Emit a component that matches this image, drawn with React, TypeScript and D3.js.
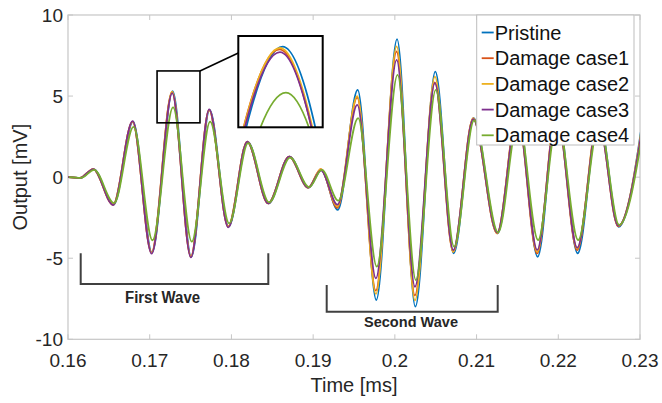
import * as d3 from 'd3';

// ---- data (extrema of each trace, ms / mV) ----
const times = [0.16, 0.16147, 0.1631, 0.16554, 0.16792, 0.17024, 0.17276, 0.17505, 0.17729, 0.17962,
  0.18194, 0.18451, 0.18708, 0.18941, 0.19096, 0.19298, 0.19541, 0.19769, 0.20023, 0.20247,
  0.20491, 0.20715, 0.2096, 0.21254, 0.215, 0.21743, 0.2198, 0.22233, 0.2249, 0.22735, 0.2305];

const pristine = [0, -0.05, 0.5, -1.7, 3.43, -4.66, 5.3, -4.91, 4.15, -3.05,
  2.19, -1.62, 1.27, -0.65, 0.44, -2.02, 5.38, -7.58, 8.51, -7.99,
  6.51, -4.7, 3.64, -3.46, 4.2, -4.91, 4.3, -4.7, 3.8, -3.06, 4.3];
const damage1 = [0, -0.05, 0.5, -1.7, 3.43, -4.66, 5.24, -4.9, 4.15, -3.05,
  2.19, -1.62, 1.27, -0.65, 0.5, -1.9, 4.9, -7.0, 7.75, -7.3,
  5.85, -4.6, 3.62, -3.46, 4.0, -4.7, 4.1, -4.5, 3.6, -3.04, 3.5];
const damage2 = [0, -0.05, 0.5, -1.7, 3.43, -4.66, 5.27, -4.9, 4.15, -3.05,
  2.19, -1.62, 1.27, -0.65, 0.5, -1.8, 5.0, -7.2, 8.06, -7.6,
  6.2, -4.6, 3.62, -3.46, 4.1, -4.6, 4.2, -4.4, 3.7, -3.0, 3.9];
const damage3 = [0, -0.05, 0.5, -1.72, 3.46, -4.72, 5.18, -4.95, 4.18, -3.1,
  2.19, -1.62, 1.27, -0.65, 0.42, -1.7, 4.46, -6.24, 7.23, -6.76,
  5.8, -4.5, 3.58, -3.42, 3.9, -4.49, 4.0, -4.35, 3.5, -3.0, 3.7];
const damage4 = [0, -0.05, 0.45, -1.6, 3.1, -3.89, 4.3, -3.98, 3.43, -2.85,
  2.1, -1.55, 1.2, -0.62, 0.45, -1.45, 3.64, -5.52, 6.31, -6.35,
  5.38, -4.29, 3.5, -3.4, 3.6, -3.88, 3.6, -3.88, 3.4, -2.95, 3.6];

const seriesNames = ['Pristine', 'Damage case1', 'Damage case2', 'Damage case3', 'Damage case4'];
const seriesValues = [pristine, damage1, damage2, damage3, damage4];
const timeShift = [0.00004, -0.00002, -0.00001, -0.00001, 0.0001];
const colors = ['#0072BD', '#D95319', '#EDB120', '#7E2F8E', '#77AC30'];

const xTicks = [0.16, 0.17, 0.18, 0.19, 0.2, 0.21, 0.22, 0.23];
const xTickLabels = ['0.16', '0.17', '0.18', '0.19', '0.2', '0.21', '0.22', '0.23'];
const yTicks = [-10, -5, 0, 5, 10];

// zoomed region shown in the inset
const zoomWindowT = [0.1709, 0.17615];
const zoomWindowV = [3.35, 6.55];
const insetT = [0.17198, 0.17354];
const insetV = [3.55, 5.53];

const font = '"Liberation Sans", Arial, sans-serif';

export default function App() {
  const W = 662, H = 403;
  const plot = { left: 68, right: 640, top: 15, bottom: 339.3 };
  const x = d3.scaleLinear().domain([0.16, 0.23]).range([plot.left, plot.right]);
  const y = d3.scaleLinear().domain([-10, 10]).range([plot.bottom, plot.top]);

  const inset = { left: 238.3, right: 322.7, top: 36, bottom: 127.3 };
  const ix = d3.scaleLinear().domain(insetT).range([inset.left, inset.right]);
  const iy = d3.scaleLinear().domain(insetV).range([inset.bottom, inset.top]);

  const series = seriesValues.map((vals, i) =>
    times.map((t, j) => [t + timeShift[i], vals[j]] as [number, number]));

  const line = d3.line<[number, number]>()
    .x(d => x(d[0])).y(d => y(d[1])).curve(d3.curveMonotoneX);
  const insetLine = d3.line<[number, number]>()
    .x(d => ix(d[0])).y(d => iy(d[1])).curve(d3.curveMonotoneX);

  const axisColor = '#c6c6c6';
  const textColor = '#262626';
  const tickLen = 5;

  // small box in the main plot
  const zb = { x0: x(zoomWindowT[0]), x1: x(zoomWindowT[1]), y0: y(zoomWindowV[1]), y1: y(zoomWindowV[0]) };

  const legend = { x: 476.7, y: 15, w: 157.3, h: 130, row: 25.7 };

  return (
    <svg width={W} height={H} style={{ position: 'absolute', left: 0, top: 0, background: '#fff' }}
      fontFamily={font}>
      <defs>
        <clipPath id="plotClip">
          <rect x={plot.left} y={plot.top} width={plot.right - plot.left} height={plot.bottom - plot.top} />
        </clipPath>
        <clipPath id="insetClip">
          <rect x={inset.left} y={inset.top} width={inset.right - inset.left} height={inset.bottom - inset.top} />
        </clipPath>
      </defs>
      <rect x={0} y={0} width={W} height={H} fill="#fff" />

      {/* axes box + ticks */}
      <rect x={plot.left} y={plot.top} width={plot.right - plot.left} height={plot.bottom - plot.top}
        fill="none" stroke={axisColor} strokeWidth={1.2} />
      {xTicks.map(t => (
        <g key={'xt' + t}>
          <line x1={x(t)} x2={x(t)} y1={plot.bottom} y2={plot.bottom - tickLen} stroke={axisColor} />
          <line x1={x(t)} x2={x(t)} y1={plot.top} y2={plot.top + tickLen} stroke={axisColor} />
        </g>
      ))}
      {yTicks.map(v => (
        <g key={'yt' + v}>
          <line x1={plot.left} x2={plot.left + tickLen} y1={y(v)} y2={y(v)} stroke={axisColor} />
          <line x1={plot.right} x2={plot.right - tickLen} y1={y(v)} y2={y(v)} stroke={axisColor} />
        </g>
      ))}

      {/* traces */}
      <g clipPath="url(#plotClip)">
        {series.map((s, i) => (
          <path key={seriesNames[i]} d={line(s) ?? ''} fill="none" stroke={colors[i]} strokeWidth={1.8} />
        ))}
      </g>

      {/* tick labels */}
      {xTicks.map((t, i) => (
        <text key={'xl' + t} x={x(t)} y={367} textAnchor="middle" fontSize={19} fill={textColor}>{xTickLabels[i]}</text>
      ))}
      {yTicks.map(v => (
        <text key={'yl' + v} x={63} y={y(v) + 7} textAnchor="end" fontSize={19} fill={textColor}>{v}</text>
      ))}
      <text x={(plot.left + plot.right) / 2} y={392} textAnchor="middle" fontSize={20} fill={textColor}>Time [ms]</text>
      <text transform={`translate(27,${(plot.top + plot.bottom) / 2}) rotate(-90)`} textAnchor="middle"
        fontSize={20} fill={textColor}>Output [mV]</text>

      {/* zoom box, connector and inset */}
      <rect x={zb.x0} y={zb.y0} width={zb.x1 - zb.x0} height={zb.y1 - zb.y0} fill="none" stroke="#000" strokeWidth={1.6} />
      <line x1={zb.x1} y1={zb.y0} x2={inset.left} y2={53} stroke="#000" strokeWidth={1.6} />
      <rect x={inset.left} y={inset.top} width={inset.right - inset.left} height={inset.bottom - inset.top} fill="#fff" />
      <g clipPath="url(#insetClip)">
        {series.map((s, i) => (
          <path key={'in' + seriesNames[i]} d={insetLine(s) ?? ''} fill="none" stroke={colors[i]} strokeWidth={1.8} />
        ))}
      </g>
      <rect x={inset.left} y={inset.top} width={inset.right - inset.left} height={inset.bottom - inset.top}
        fill="none" stroke="#000" strokeWidth={2} />

      {/* wave brackets */}
      <path d="M80.7,253.3 V284 H268.3 V253.3" fill="none" stroke="#404040" strokeWidth={2} />
      <text x={162.5} y={303} textAnchor="middle" fontSize={16} fontWeight="bold" fill="#262626"
        textLength={75} lengthAdjust="spacingAndGlyphs">First Wave</text>
      <path d="M326.7,285 V311.7 H497.7 V285" fill="none" stroke="#404040" strokeWidth={2} />
      <text x={411} y={327} textAnchor="middle" fontSize={15} fontWeight="bold" fill="#262626"
        textLength={94} lengthAdjust="spacingAndGlyphs">Second Wave</text>

      {/* legend */}
      <rect x={legend.x} y={legend.y} width={legend.w} height={legend.h} fill="#fff" stroke="#bdbdbd" strokeWidth={1} />
      {seriesNames.map((name, i) => {
        const cy = legend.y + 17.5 + i * legend.row;
        return (
          <g key={'lg' + name}>
            <line x1={legend.x + 5} x2={legend.x + 17} y1={cy} y2={cy} stroke={colors[i]} strokeWidth={1.8} />
            <text x={legend.x + 18} y={cy + 7} fontSize={20} fill="#111">{name}</text>
          </g>
        );
      })}
    </svg>
  );
}
